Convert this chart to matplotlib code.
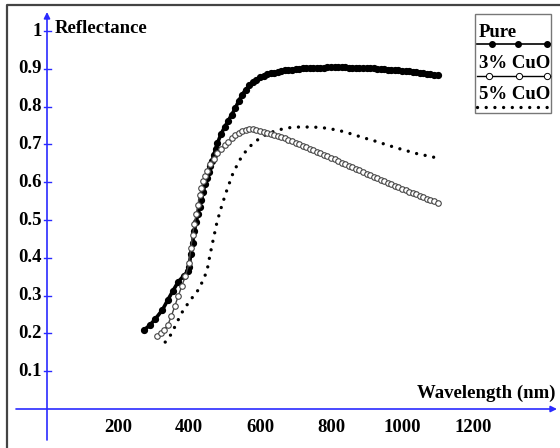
import numpy as np
import matplotlib
matplotlib.use("Agg")
import matplotlib.pyplot as plt
from matplotlib.patches import Rectangle
from matplotlib.lines import Line2D

# --- data ---
wl_pure = [272, 290, 305, 325, 340, 355, 370, 385, 398,
           400, 405, 410, 415, 420, 425, 430, 435, 440, 445, 450, 455, 460, 465, 470, 475, 480,
           490, 500, 510, 520, 530, 540, 550, 560, 570, 580, 590,
           600, 610, 620, 630, 640, 650, 660, 670, 680, 690, 700, 710, 720, 730, 740, 750,
           760, 770, 780, 790, 800, 810, 820, 830, 840, 850, 860, 870, 880, 890, 900, 910,
           920, 930, 940, 950, 960, 970, 980, 990, 1000, 1010, 1020, 1030, 1040, 1050, 1060,
           1070, 1080, 1090, 1100]
r_pure = [0.208, 0.222, 0.238, 0.262, 0.288, 0.313, 0.337, 0.352, 0.366,
          0.375, 0.410, 0.440, 0.470, 0.495, 0.515, 0.535, 0.552, 0.575, 0.595, 0.612, 0.628, 0.643, 0.655, 0.672, 0.688, 0.703,
          0.727, 0.745, 0.762, 0.778, 0.795, 0.815, 0.832, 0.845, 0.856, 0.864, 0.871,
          0.877, 0.881, 0.885, 0.888, 0.890, 0.892, 0.894, 0.896, 0.897, 0.898, 0.899, 0.900, 0.901, 0.901, 0.902, 0.902,
          0.903, 0.903, 0.903, 0.904, 0.904, 0.904, 0.904, 0.904, 0.904, 0.903, 0.903, 0.903, 0.903, 0.902, 0.902, 0.901,
          0.901, 0.900, 0.900, 0.899, 0.898, 0.897, 0.897, 0.896, 0.895, 0.894, 0.893, 0.892, 0.891, 0.890, 0.889,
          0.887, 0.886, 0.884, 0.883]

wl_3 = [310, 320, 330, 340, 350, 360, 370, 380, 390, 400, 405, 410, 415, 420, 425, 430, 435, 440, 445, 450,
        460, 470, 480, 490, 500, 510, 520, 530, 540, 550, 560, 570, 580, 590, 600, 610, 620, 630, 640, 650,
        660, 670, 680, 690, 700, 710, 720, 730, 740, 750, 760, 770, 780, 790, 800, 810, 820, 830, 840, 850,
        860, 870, 880, 890, 900, 910, 920, 930, 940, 950, 960, 970, 980, 990, 1000, 1010, 1020, 1030, 1040,
        1050, 1060, 1070, 1080, 1090, 1100]
r_3 = [0.192, 0.200, 0.210, 0.222, 0.245, 0.272, 0.300, 0.326, 0.352, 0.385, 0.425, 0.460, 0.490, 0.515, 0.540, 0.565, 0.585, 0.603, 0.617, 0.630,
       0.648, 0.662, 0.676, 0.688, 0.698, 0.707, 0.716, 0.724, 0.731, 0.736, 0.739, 0.740, 0.740, 0.738, 0.736, 0.734, 0.731, 0.728, 0.725, 0.722,
       0.719, 0.716, 0.712, 0.709, 0.705, 0.701, 0.697, 0.693, 0.689, 0.685, 0.681, 0.677, 0.673, 0.669, 0.665, 0.661, 0.656, 0.652, 0.648, 0.644,
       0.640, 0.636, 0.631, 0.627, 0.623, 0.619, 0.615, 0.611, 0.607, 0.603, 0.599, 0.595, 0.591, 0.587, 0.583, 0.579, 0.575, 0.571, 0.568,
       0.564, 0.560, 0.556, 0.552, 0.549, 0.545]

wl_5 = [333, 350, 368, 383, 403, 426, 440, 451, 459, 468, 479, 493, 507, 524, 543, 566, 590, 620, 650,
        680, 710, 740, 770, 800, 830, 860, 890, 920, 950, 980, 1010, 1040, 1070, 1100]
r_5 = [0.177, 0.198, 0.233, 0.260, 0.287, 0.315, 0.341, 0.367, 0.407, 0.447, 0.495, 0.540, 0.580, 0.624, 0.659, 0.690, 0.710, 0.728, 0.738,
       0.744, 0.746, 0.746, 0.745, 0.741, 0.735, 0.727, 0.718, 0.710, 0.701, 0.692, 0.684, 0.676, 0.670, 0.664]

x_ticks = [200, 400, 600, 800, 1000, 1200]
y_ticks = [0.1, 0.2, 0.3, 0.4, 0.5, 0.6, 0.7, 0.8, 0.9, 1.0]
y_labels = ["0.1", "0.2", "0.3", "0.4", "0.5", "0.6", "0.7", "0.8", "0.9", "1"]
legend_names = ["Pure", "3% CuO", "5% CuO"]

# --- pixel <-> data helpers (layout only) ---
X0, XS = 47.0, 0.355
Y0, YS = 409.0, 378.0
def px(p): return (p - X0) / XS
def py(p): return (Y0 - p) / YS

blue = "#2a2aff"
font = dict(family="Liberation Serif", weight="bold", size=13.5, color="black")

fig = plt.figure(figsize=(5.6, 4.48), dpi=100)
ax = fig.add_axes([0, 0, 1, 1])
ax.set_xlim(px(0), px(560))
ax.set_ylim(py(448), py(0))
ax.axis("off")

# frame on left/top
ax.plot([px(7), px(7), px(560)], [py(448), py(5), py(5)], color="#444444", lw=1.6, clip_on=False)

# axes with arrows
ax.annotate("", xy=(px(557), 0), xytext=(px(16), 0),
            arrowprops=dict(arrowstyle="-|>", color=blue, lw=1.2, mutation_scale=9, shrinkA=0, shrinkB=0))
ax.annotate("", xy=(0, py(12)), xytext=(0, py(440)),
            arrowprops=dict(arrowstyle="-|>", color=blue, lw=1.2, mutation_scale=9, shrinkA=0, shrinkB=0))

for v, lab in zip(y_ticks, y_labels):
    ax.plot([px(44), px(51)], [v, v], color=blue, lw=1.0)
    ax.text(px(42), v, lab, ha="right", va="center", **font)
for v in x_ticks:
    ax.text(v, py(427), str(v), ha="center", va="center", **font)

ax.text(px(55), py(33), "Reflectance", ha="left", va="baseline", **font)
ax.text(px(555), py(398), "Wavelength (nm)", ha="right", va="baseline", **font)

# curves
dot_style = dict(color="black", lw=2.4, linestyle=(0, (0.01, 2.6)), dash_capstyle="round")
ax.plot(wl_5, r_5, **dot_style)
ax.plot(wl_pure, r_pure, color="black", lw=2.6, marker="o", ms=4.2, mfc="black", mec="black")
ax.plot(wl_3, r_3, color="#444444", lw=1.0, marker="o", ms=4.0, mfc="white", mec="#444444", mew=0.8)

# legend box
ax.add_patch(Rectangle((px(475), py(113)), px(551) - px(475), py(14) - py(113),
                       fill=True, facecolor="white", edgecolor="#777777", lw=1.0, zorder=5))
text_y = [37, 68, 99]
line_y = [44, 76, 107]
for i, name in enumerate(legend_names):
    ax.text(px(479), py(text_y[i]), name, ha="left", va="baseline", zorder=6, **font)
xs = [px(477), px(550)]
ax.add_line(Line2D(xs, [py(line_y[0])] * 2, color="black", lw=1.2, zorder=6))
ax.plot([px(492), px(518), px(547)], [py(line_y[0])] * 3, "o", color="black", ms=4, zorder=7)
ax.add_line(Line2D(xs, [py(line_y[1])] * 2, color="black", lw=1.0, zorder=6))
ax.plot([px(489), px(519), px(547)], [py(line_y[1])] * 3, "o", mfc="white", mec="black", mew=0.7, ms=4.5, zorder=7)
ax.add_line(Line2D(xs, [py(line_y[2])] * 2, zorder=6, **dot_style))

fig.savefig("out.png", dpi=100)
